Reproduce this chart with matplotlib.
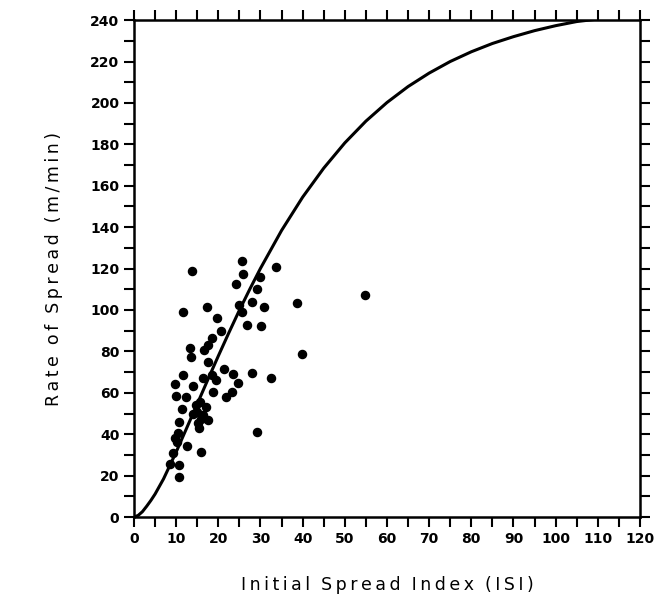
import matplotlib
matplotlib.use("Agg")
import matplotlib.pyplot as plt
from matplotlib.ticker import MultipleLocator

isi_obs = [25.7, 25.9, 24.3, 33.7, 29.9, 29.1, 27.9, 25.0, 30.8, 25.5,
           38.7, 26.7, 30.1, 39.8, 23.5, 28.0, 32.6, 24.7, 23.2, 21.8,
           21.4, 29.2, 13.8, 11.7, 17.4, 19.6, 20.6, 18.4, 17.6, 16.6,
           13.3, 13.6, 17.6, 11.7, 9.7, 13.9, 16.4, 18.4, 18.8, 10.0,
           12.3, 15.7, 11.5, 14.9, 16.4, 14.1, 17.6, 15.2, 15.5, 10.7,
           10.5, 9.7, 10.1, 12.5, 16.0, 9.3, 8.5, 10.7, 10.7, 54.8,
           19.5, 17.0, 15.8, 14.6]
ros_obs = [123.8, 117.2, 112.7, 120.6, 116.0, 110.0, 104.0, 102.4, 101.3, 99.1,
           103.2, 92.7, 92.2, 78.7, 69.0, 69.4, 67.3, 64.6, 60.2, 58.1,
           71.6, 41.2, 118.9, 99.1, 101.5, 95.9, 90.0, 86.3, 83.0, 80.6,
           81.4, 77.5, 74.7, 68.6, 64.1, 63.3, 67.3, 68.6, 60.5, 58.6,
           58.1, 55.7, 52.0, 50.8, 49.3, 49.6, 46.8, 45.2, 43.1, 46.0,
           40.4, 38.3, 36.1, 34.4, 31.2, 30.7, 25.4, 25.1, 19.5, 107.0,
           66.0, 53.0, 47.5, 54.0]

# model curve
isi_curve = [0, 1, 2, 3, 4, 5, 7, 10, 12.5, 15, 17.5, 20, 22.5, 25, 27.5,
             30, 35, 40, 45, 50, 55, 60, 65, 70, 75, 80, 85, 90, 95, 100,
             105, 110, 120]
ros_curve = [0, 0.8, 2.6, 5.2, 8.0, 11.1, 18.4, 31.4, 43.0, 54.6, 66.3,
             77.8, 89.0, 99.9, 110.2, 120.1, 138.4, 154.5, 168.5, 180.7,
             191.2, 200.2, 207.9, 214.4, 220.0, 224.7, 228.7, 232.0, 234.9,
             237.3, 239.3, 240.5, 243.7]

fig = plt.figure(figsize=(6.64, 6.09), dpi=100)
ax = fig.add_axes([0.2018, 0.151, 0.762, 0.816])

ax.plot(isi_curve, ros_curve, color="black", lw=2.2, solid_capstyle="round")
ax.scatter(isi_obs, ros_obs, s=34, color="black", zorder=3)

ax.set_xlim(0, 120)
ax.set_ylim(0, 240)
ax.xaxis.set_major_locator(MultipleLocator(10))
ax.xaxis.set_minor_locator(MultipleLocator(5))
ax.yaxis.set_major_locator(MultipleLocator(20))
ax.yaxis.set_minor_locator(MultipleLocator(10))

for s in ax.spines.values():
    s.set_linewidth(1.8)

ax.tick_params(which="both", direction="out", top=True, right=True,
               width=1.5, length=7, labelsize=10)
for lab in ax.get_xticklabels() + ax.get_yticklabels():
    lab.set_fontweight("bold")


def spaced(txt):
    # loose letter spacing like the original typesetting
    return "\u2009".join(txt).replace("\u2009 \u2009", "  ")


ax.set_xlabel(spaced("Initial Spread Index (ISI)"), fontsize=12.5,
              fontweight="medium", labelpad=22)
ax.set_ylabel(spaced("Rate of Spread (m/min)"), fontsize=12.5,
              fontweight="medium", labelpad=20)

fig.savefig("out.png", dpi=100)
